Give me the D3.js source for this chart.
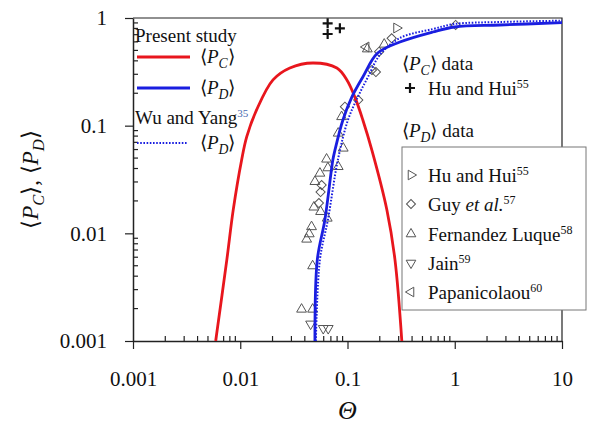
<!DOCTYPE html>
<html>
<head>
<meta charset="utf-8">
<script src="https://cdn.jsdelivr.net/npm/d3@7"></script>
<style>
  body { margin: 0; background: #fff; }
  svg text { font-family: "Liberation Serif", "Times New Roman", serif; fill: #111; }
</style>
</head>
<body>
<div id="chart"></div>
<script>
// ---- data ----
const xTicks = [0.001, 0.01, 0.1, 1, 10];
const xTickLabels = ["0.001", "0.01", "0.1", "1", "10"];
const yTicks = [0.001, 0.01, 0.1, 1];
const yTickLabels = ["0.001", "0.01", "0.1", "1"];

// present study <P_C>
const pcTheta = [0.0059, 0.0075, 0.0086, 0.0103, 0.0115, 0.0142, 0.0202, 0.029, 0.0476, 0.0796, 0.0987, 0.117, 0.139, 0.169, 0.233, 0.277, 0.321];
const pcValues = [0.001, 0.0057, 0.0165, 0.048, 0.079, 0.14, 0.266, 0.343, 0.382, 0.343, 0.266, 0.185, 0.113, 0.059, 0.0165, 0.0057, 0.001];

// present study <P_D>
const pdTheta = [0.0497, 0.0523, 0.0615, 0.073, 0.0763, 0.0906, 0.11, 0.139, 0.19, 0.308, 0.625, 1, 2.63, 10];
const pdValues = [0.001, 0.0057, 0.0133, 0.048, 0.059, 0.113, 0.185, 0.283, 0.47, 0.598, 0.741, 0.825, 0.861, 0.904];

// Wu and Yang <P_D>
const wuTheta = [0.0507, 0.0553, 0.0656, 0.0813, 0.101, 0.125, 0.155, 0.2, 0.308, 0.625, 1, 2.63, 10];
const wuValues = [0.001, 0.0057, 0.0133, 0.048, 0.113, 0.185, 0.283, 0.453, 0.652, 0.79, 0.88, 0.918, 0.944];

// <P_C> data, Hu and Hui
const huPcTheta = [0.0653, 0.0653, 0.0849];
const huPcValues = [0.893, 0.71, 0.802];

// <P_D> data
const huPdTheta = [0.287];
const huPdValues = [0.807];
const guyTheta = [0.258, 0.197, 0.169, 0.184, 0.126, 1.02, 0.0574, 0.0561, 0.0541, 0.0946];
const guyValues = [0.648, 0.486, 0.329, 0.315, 0.173, 0.861, 0.0281, 0.0242, 0.0191, 0.15];
const fernTheta = [0.22, 0.153, 0.0881, 0.0819, 0.0912, 0.0638, 0.0819, 0.0656, 0.0553, 0.0497, 0.0486, 0.0561, 0.0647, 0.0462, 0.044, 0.0416, 0.0473, 0.0373, 0.0473];
const fernValues = [0.57, 0.515, 0.121, 0.085, 0.0617, 0.0488, 0.0416, 0.0405, 0.0361, 0.0302, 0.0175, 0.0159, 0.0138, 0.0115, 0.00987, 0.00881, 0.00498, 0.00197, 0.00197];
const jainTheta = [0.0453, 0.0594, 0.0661];
const jainValues = [0.00144, 0.00131, 0.00131];
const papTheta = [0.149];
const papValues = [0.538];

// ---- layout ----
const W = 591, H = 425;
const margin = { top: 18, right: 29, bottom: 84, left: 133 };
const red = "#e8161d", blue = "#1a1ee0", grey = "#555";
const serif = "'Liberation Serif', 'Times New Roman', serif";

const svg = d3.select("#chart").append("svg")
  .attr("width", W).attr("height", H)
  .attr("font-family", serif);

const x = d3.scaleLog().domain([0.001, 10]).range([margin.left, W - margin.right]);
const y = d3.scaleLog().domain([0.001, 1]).range([H - margin.bottom, margin.top]);

svg.append("clipPath").attr("id", "plot")
  .append("rect")
  .attr("x", margin.left).attr("y", margin.top - 2)
  .attr("width", W - margin.left - margin.right + 2)
  .attr("height", H - margin.top - margin.bottom + 2);

// frame (top and right)
svg.append("path")
  .attr("d", `M${x(0.001)},${y(1)}H${x(10)}V${y(0.001)}`)
  .attr("fill", "none").attr("stroke", "#222").attr("stroke-width", 1.2);

// x axis
const xAxis = d3.axisBottom(x).tickValues(xTicks)
  .tickFormat((d, i) => xTickLabels[i]).tickSize(8).tickPadding(22).tickSizeOuter(0);
const gx = svg.append("g").attr("transform", `translate(0,${y(0.001)})`).call(xAxis);
const xMinor = x.ticks().filter(d => !xTicks.includes(d));
gx.selectAll(".minor").data(xMinor).join("line")
  .attr("class", "minor")
  .attr("x1", d => x(d)).attr("x2", d => x(d))
  .attr("y1", 0).attr("y2", -5);

// y axis
const yAxis = d3.axisLeft(y).tickValues(yTicks)
  .tickFormat((d, i) => yTickLabels[i]).tickSize(8).tickPadding(18).tickSizeOuter(0);
const gy = svg.append("g").attr("transform", `translate(${x(0.001)},0)`).call(yAxis);
const yMinor = y.ticks().filter(d => !yTicks.includes(d));
gy.selectAll(".minor").data(yMinor).join("line")
  .attr("class", "minor")
  .attr("x1", 0).attr("x2", 5)
  .attr("y1", d => y(d)).attr("y2", d => y(d));

svg.selectAll("g").attr("font-family", serif);
svg.selectAll(".domain").attr("stroke", "#222").attr("stroke-width", 1.5);
svg.selectAll(".tick line, .minor").attr("stroke", "#222").attr("stroke-width", 1.2);
svg.selectAll(".tick text").attr("font-size", 21).attr("fill", "#111");

// helper for <P_X>
function bracket(t, sub, size) {
  t.append("tspan").text("\u27E8");
  t.append("tspan").attr("font-style", "italic").text("P");
  t.append("tspan").attr("font-style", "italic").attr("font-size", size * 0.72)
    .attr("dy", size * 0.28).text(sub);
  t.append("tspan").attr("dy", -size * 0.28).text("\u27E9");
}

// axis titles
svg.append("text")
  .attr("x", (x(0.001) + x(10)) / 2).attr("y", 419)
  .attr("text-anchor", "middle").attr("font-size", 26).attr("font-style", "italic")
  .text("\u0398");

const yt = svg.append("text")
  .attr("transform", `translate(38,${(y(1) + y(0.001)) / 2}) rotate(-90)`)
  .attr("text-anchor", "middle").attr("font-size", 23);
bracket(yt, "C", 23);
yt.append("tspan").text(", ");
bracket(yt, "D", 23);

// curves
const plot = svg.append("g").attr("clip-path", "url(#plot)");
const line = d3.line().x(d => x(d[0])).y(d => y(d[1])).curve(d3.curveCatmullRom.alpha(0.5));

// markers
function drawMarkers(thetas, values, type, rot) {
  plot.append("g").selectAll("path").data(d3.zip(thetas, values)).join("path")
    .attr("transform", d => `translate(${x(d[0])},${y(d[1])}) rotate(${rot})`)
    .attr("d", d3.symbol().type(type).size(42))
    .attr("fill", "none").attr("stroke", grey).attr("stroke-width", 1);
}
drawMarkers(fernTheta, fernValues, d3.symbolTriangle, 0);
drawMarkers(guyTheta, guyValues, d3.symbolSquare, 45);
drawMarkers(jainTheta, jainValues, d3.symbolTriangle, 180);
drawMarkers(huPdTheta, huPdValues, d3.symbolTriangle, 90);
drawMarkers(papTheta, papValues, d3.symbolTriangle, -90);

plot.append("path").datum(d3.zip(pcTheta, pcValues))
  .attr("d", line).attr("fill", "none").attr("stroke", red).attr("stroke-width", 2.8);
plot.append("path").datum(d3.zip(pdTheta, pdValues))
  .attr("d", line).attr("fill", "none").attr("stroke", blue).attr("stroke-width", 2.8);
plot.append("path").datum(d3.zip(wuTheta, wuValues))
  .attr("d", line).attr("fill", "none").attr("stroke", blue).attr("stroke-width", 2)
  .attr("stroke-dasharray", "1.6,1.6");

const plus = "M-5,0H5M0,-5V5";
svg.append("g").selectAll("path").data(d3.zip(huPcTheta, huPcValues)).join("path")
  .attr("transform", d => `translate(${x(d[0])},${y(d[1])})`)
  .attr("d", plus).attr("stroke", "#111").attr("stroke-width", 2.2);

// top-left legend
const lg = svg.append("g").attr("font-size", 19);
lg.append("text").attr("x", 135).attr("y", 42).text("Present study");
lg.append("line").attr("x1", 137).attr("x2", 190).attr("y1", 57).attr("y2", 57)
  .attr("stroke", red).attr("stroke-width", 2.8);
bracket(lg.append("text").attr("x", 200).attr("y", 63), "C", 19);
lg.append("line").attr("x1", 137).attr("x2", 190).attr("y1", 88).attr("y2", 88)
  .attr("stroke", blue).attr("stroke-width", 2.8);
bracket(lg.append("text").attr("x", 200).attr("y", 94), "D", 19);
const wy = lg.append("text").attr("x", 135).attr("y", 124).text("Wu and Yang");
wy.append("tspan").attr("font-size", 11).attr("dy", -7).attr("fill", "#4a6ab0").text("35");
lg.append("line").attr("x1", 137).attr("x2", 187).attr("y1", 143).attr("y2", 143)
  .attr("stroke", blue).attr("stroke-width", 2).attr("stroke-dasharray", "1.6,1.6");
bracket(lg.append("text").attr("x", 200).attr("y", 149), "D", 19);

// right-hand legends
const rg = svg.append("g").attr("font-size", 19);
const pct = rg.append("text").attr("x", 402).attr("y", 70);
bracket(pct, "C", 19);
pct.append("tspan").text(" data");
rg.append("path").attr("transform", "translate(410,88)").attr("d", plus)
  .attr("stroke", "#111").attr("stroke-width", 2.2);
const hh = rg.append("text").attr("x", 428).attr("y", 95).text("Hu and Hui");
hh.append("tspan").attr("font-size", 12).attr("dy", -7).text("55");
const pdt = rg.append("text").attr("x", 402).attr("y", 137);
bracket(pdt, "D", 19);
pdt.append("tspan").text(" data");

rg.append("rect").attr("x", 402).attr("y", 147).attr("width", 184).attr("height", 163)
  .attr("fill", "#fff").attr("stroke", "#777").attr("stroke-width", 1);

const rows = [
  { type: d3.symbolTriangle, rot: 90, parts: [["Hu and Hui", ""], ["55", "sup"]] },
  { type: d3.symbolSquare, rot: 45, parts: [["Guy ", ""], ["et al.", "it"], ["57", "sup"]] },
  { type: d3.symbolTriangle, rot: 0, parts: [["Fernandez Luque", ""], ["58", "sup"]] },
  { type: d3.symbolTriangle, rot: 180, parts: [["Jain", ""], ["59", "sup"]] },
  { type: d3.symbolTriangle, rot: -90, parts: [["Papanicolaou", ""], ["60", "sup"]] }
];
const rowY = [175, 204, 234, 263, 292];
rows.forEach((r, i) => {
  rg.append("path")
    .attr("transform", `translate(411,${rowY[i]}) rotate(${r.rot})`)
    .attr("d", d3.symbol().type(r.type).size(40))
    .attr("fill", "none").attr("stroke", grey).attr("stroke-width", 1);
  const t = rg.append("text").attr("x", 428).attr("y", rowY[i] + 7);
  r.parts.forEach(p => {
    const s = t.append("tspan").text(p[0]);
    if (p[1] === "it") s.attr("font-style", "italic");
    if (p[1] === "sup") s.attr("font-size", 12).attr("dy", -7);
  });
});
</script>
</body>
</html>
